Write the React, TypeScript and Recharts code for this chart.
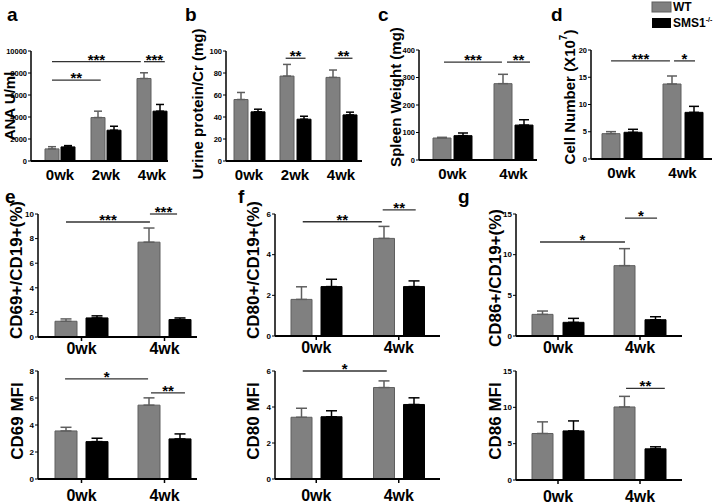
import React from 'react'
import { BarChart, Bar, XAxis, YAxis, ErrorBar, ReferenceLine } from 'recharts'

const WEEKS3 = ['0wk', '2wk', '4wk']
const WEEKS2 = ['0wk', '4wk']

// a - ANA U/ml
const anaWT = [1100, 3950, 7500]
const anaWTErr = [200, 580, 520]
const anaKO = [1280, 2800, 4530]
const anaKOErr = [120, 360, 610]
const anaTicks = [0, 2000, 4000, 6000, 8000, 10000]

// b - urine protein/Cr
const urineWT = [55.9, 77.2, 76]
const urineWTErr = [6.4, 10.6, 6.7]
const urineKO = [44.7, 38, 41.9]
const urineKOErr = [2.4, 2.7, 2.5]
const urineTicks = [0, 20, 40, 60, 80, 100]

// c - spleen weight
const spleenWT = [80, 277.6]
const spleenWTErr = [2.5, 34]
const spleenKO = [88.5, 127]
const spleenKOErr = [9.7, 19.4]
const spleenTicks = [0, 100, 200, 300, 400]

// d - cell number
const cellWT = [4.65, 13.76]
const cellWTErr = [0.37, 1.47]
const cellKO = [4.9, 8.56]
const cellKOErr = [0.55, 1.1]
const cellTicks = [0, 5, 10, 15, 20]

// e/f/g - percent of CD19+
const cd69WT = [1.28, 7.71]
const cd69WTErr = [0.19, 1.15]
const cd69KO = [1.55, 1.42]
const cd69KOErr = [0.17, 0.13]
const cd69Ticks = [0, 2, 4, 6, 8, 10]

const cd80WT = [1.8, 4.8]
const cd80WTErr = [0.62, 0.59]
const cd80KO = [2.43, 2.43]
const cd80KOErr = [0.36, 0.28]
const cd80Ticks = [0, 2, 4, 6]

const cd86WT = [2.66, 8.65]
const cd86WTErr = [0.41, 2.09]
const cd86KO = [1.68, 2.0]
const cd86KOErr = [0.49, 0.37]
const cd86Ticks = [0, 5, 10, 15]

// e/f/g - MFI
const mfi69WT = [3.56, 5.47]
const mfi69WTErr = [0.27, 0.54]
const mfi69KO = [2.77, 2.97]
const mfi69KOErr = [0.25, 0.37]
const mfi69Ticks = [0, 2, 4, 6, 8]

const mfi80WT = [3.43, 5.08]
const mfi80WTErr = [0.5, 0.37]
const mfi80KO = [3.46, 4.14]
const mfi80KOErr = [0.33, 0.37]
const mfi80Ticks = [0, 2, 4, 6]

const mfi86WT = [6.4, 10.05]
const mfi86WTErr = [1.6, 1.46]
const mfi86KO = [6.76, 4.29]
const mfi86KOErr = [1.37, 0.28]
const mfi86Ticks = [0, 5, 10, 15]

// significance brackets: [from week, side, to week, side, y value, stars]
// side: -1 = WT bar centre, +1 = KO bar centre
type Sig = [string, number, string, number, number, string]
const anaSig: Sig[] = [['0wk', -1, '4wk', -1.4, 9030, '***'], ['0wk', -1, '2wk', -0.66, 7360, '**'], ['4wk', -1, '4wk', 1.6, 9030, '***']]
const urineSig: Sig[] = [['2wk', -1.1, '2wk', 1.24, 93.4, '**'], ['4wk', -0.76, '4wk', 1.35, 93.4, '**']]
const spleenSig: Sig[] = [['0wk', -0.81, '4wk', -1.1, 356, '***'], ['4wk', -0.62, '4wk', 1.57, 356, '**']]
const cellSig: Sig[] = [['0wk', -0.95, '4wk', -1.14, 18, '***'], ['4wk', -0.77, '4wk', 1.14, 18, '*']]
const cd69Sig: Sig[] = [['0wk', -1, '4wk', -0.94, 9.35, '***'], ['4wk', -0.94, '4wk', 0.81, 10, '***']]
const cd80Sig: Sig[] = [['0wk', -0.9, '4wk', -1.13, 5.62, '**'], ['4wk', -1.07, '4wk', 1.13, 6.2, '**']]
const cd86Sig: Sig[] = [['0wk', -1.16, '4wk', -0.97, 11.56, '*'], ['4wk', -0.97, '4wk', 1.1, 14.5, '*']]
const mfi69Sig: Sig[] = [['0wk', -1.06, '4wk', -1.06, 7.41, '*'], ['4wk', -0.87, '4wk', 1.32, 6.38, '**']]
const mfi80Sig: Sig[] = [['0wk', -0.9, '4wk', -0.8, 6.0, '*']]
const mfi86Sig: Sig[] = [['4wk', -0.9, '4wk', 1.6, 12.6, '**']]

const WT_FILL = '#808080'
const WT_EDGE = '#5e5e5e'

interface PanelProps {
  x0: number
  x1: number
  top: number
  bottom: number
  cats: string[]
  wt: number[]
  wtErr: number[]
  ko: number[]
  koErr: number[]
  ticks: number[]
  sigs: Sig[]
  barSize: number
  barGap: number
  padL: number
  padR: number
  cap: number
  xTicks: boolean
  tickGap: number
  fs: number
  yfs: number
}

// bracket + stars, drawn from the reference line's own end points
const sigShape = (label: string, d1: number, d2: number) => (props: any) => {
  const a = props.x1 + d1
  const b = props.x2 + d2
  const y = props.y1
  return (
    <g>
      <line x1={a} x2={b} y1={y} y2={y} stroke="#333" strokeWidth={1.3} />
      <text x={(a + b) / 2} y={y + 3} textAnchor="middle" fontSize={15} fontWeight="bold" fill="#000">
        {label}
      </text>
    </g>
  )
}

// y tick label, drawn at the position the axis hands over
const yTick = (size: number) => (props: any) => (
  <text
    x={props.x}
    y={props.y}
    dy={size * 0.35}
    textAnchor="end"
    fontSize={size}
    fontWeight="bold"
    fill="#000"
  >
    {props.payload.value}
  </text>
)

function Panel(p: PanelProps) {
  const YW = 34
  const MT = 26
  const MR = 14
  const XH = 34
  const step = (p.barSize + p.barGap) / 2
  const data = p.cats.map((c, i) => ({
    cat: c,
    wt: p.wt[i],
    wtE: [0, p.wtErr[i]],
    ko: p.ko[i],
    koE: [0, p.koErr[i]],
  }))
  const yMax = p.ticks[p.ticks.length - 1]
  return (
    <div style={{ position: 'absolute', left: p.x0 - YW, top: p.top - MT }}>
      <BarChart
        width={YW + (p.x1 - p.x0) + MR}
        height={MT + (p.bottom - p.top) + XH}
        data={data}
        margin={{ top: MT, right: MR, left: 0, bottom: 0 }}
        barSize={p.barSize}
        barGap={p.barGap}
      >
        <XAxis
          dataKey="cat"
          height={XH}
          interval={0}
          padding={{ left: p.padL, right: p.padR }}
          axisLine={{ stroke: '#000', strokeWidth: 2 }}
          tickLine={p.xTicks ? { stroke: '#000', strokeWidth: 1.5 } : false}
          tickSize={4}
          tickMargin={p.tickGap}
          tick={{ fill: '#000', fontSize: p.fs, fontWeight: 'bold' }}
        />
        <YAxis
          width={YW}
          domain={[0, yMax]}
          ticks={p.ticks}
          interval={0}
          axisLine={{ stroke: '#000', strokeWidth: 1.5 }}
          tickLine={{ stroke: '#000', strokeWidth: 1 }}
          tickSize={3}
          tickMargin={1}
          tick={yTick(p.yfs)}
        />
        <Bar dataKey="wt" fill={WT_FILL} stroke={WT_EDGE} strokeWidth={1} isAnimationActive={false}>
          <ErrorBar dataKey="wtE" width={p.cap} stroke={WT_EDGE} strokeWidth={1.5} direction="y" />
        </Bar>
        <Bar dataKey="ko" fill="#000" stroke="#000" strokeWidth={1} isAnimationActive={false}>
          <ErrorBar dataKey="koE" width={p.cap} stroke="#000" strokeWidth={1.5} direction="y" />
        </Bar>
        {p.sigs.map((s, i) => (
          <ReferenceLine
            key={i}
            segment={[{ x: s[0], y: s[4] }, { x: s[2], y: s[4] }]}
            ifOverflow="visible"
            shape={sigShape(s[5], s[1] * step, s[3] * step)}
          />
        ))}
      </BarChart>
    </div>
  )
}

function Title({ x, y, size, children }: { x: number; y: number; size: number; children: React.ReactNode }) {
  return (
    <text
      x={x}
      y={y}
      transform={`rotate(-90 ${x} ${y})`}
      textAnchor="middle"
      dominantBaseline="central"
      fontSize={size}
      fontWeight="bold"
      fill="#000"
    >
      {children}
    </text>
  )
}

const top = { top: 51, bottom: 161, xTicks: false, tickGap: 4, fs: 15, yfs: 7.5 }
const mid = { top: 214, bottom: 336, xTicks: true, tickGap: 2, fs: 16, yfs: 8 }
const low = { top: 371, bottom: 479, xTicks: true, tickGap: 7, fs: 16, yfs: 8 }
const colE = { x0: 38, x1: 197, padL: 2, padR: -9, barSize: 22, barGap: 9, cap: 5.5 }
const colF = { x0: 275, x1: 440, padL: 0, padR: 0, barSize: 21, barGap: 9, cap: 5.5 }
const colG = { x0: 516, x1: 682, padL: 1, padR: 1, barSize: 21, barGap: 10, cap: 5.5 }

export default function App() {
  return (
    <div
      style={{
        position: 'absolute',
        left: 0,
        top: 0,
        width: 714,
        height: 504,
        overflow: 'hidden',
        background: '#fff',
        fontFamily: '"Liberation Sans", Arial, sans-serif',
      }}
    >
      <svg width={714} height={504} style={{ position: 'absolute', left: 0, top: 0 }}>
        <g fontSize={19} fontWeight="bold" fill="#000">
          <text x={7} y={21}>a</text>
          <text x={185} y={21}>b</text>
          <text x={378} y={21}>c</text>
          <text x={551} y={21}>d</text>
          <text x={5} y={203}>e</text>
          <text x={238} y={203}>f</text>
          <text x={458} y={203}>g</text>
        </g>
        <rect x={652} y={2} width={19} height={10} fill={WT_FILL} stroke={WT_EDGE} />
        <rect x={652} y={18} width={19} height={10} fill="#000" />
        <text x={673} y={11} fontSize={12} fontWeight="bold">WT</text>
        <text x={673} y={27} fontSize={12} fontWeight="bold">
          SMS1<tspan fontSize={7} dy={-5}>-/-</tspan>
        </text>
        <Title x={9} y={106} size={15}>ANA U/ml</Title>
        <Title x={197} y={104} size={15}>Urine protein/Cr (mg)</Title>
        <Title x={395} y={97} size={15}>Spleen Weight (mg)</Title>
        <Title x={569} y={97} size={15}>
          Cell Number (X10<tspan fontSize={10} dy={-6}>7</tspan>
          <tspan dy={6}>)</tspan>
        </Title>
        <Title x={16} y={270} size={17}>CD69+/CD19+(%)</Title>
        <Title x={253} y={270} size={17}>CD80+/CD19+(%)</Title>
        <Title x={495} y={278} size={17}>CD86+/CD19+(%)</Title>
        <Title x={17} y={421} size={17}>CD69 MFI</Title>
        <Title x={253} y={421} size={17}>CD80 MFI</Title>
        <Title x={495} y={421} size={17}>CD86 MFI</Title>
      </svg>

      <Panel {...top} x0={31} x1={168} padL={6} padR={-7} barSize={14} barGap={2} cap={4}
        cats={WEEKS3} wt={anaWT} wtErr={anaWTErr} ko={anaKO} koErr={anaKOErr} ticks={anaTicks} sigs={anaSig} />
      <Panel {...top} x0={226} x1={362} padL={0} padR={-2} barSize={14} barGap={3} cap={4}
        cats={WEEKS3} wt={urineWT} wtErr={urineWTErr} ko={urineKO} koErr={urineKOErr} ticks={urineTicks} sigs={urineSig} />
      <Panel {...top} top={50} bottom={160} x0={419} x1={537} padL={3} padR={-7} barSize={18} barGap={3} cap={5}
        cats={WEEKS2} wt={spleenWT} wtErr={spleenWTErr} ko={spleenKO} koErr={spleenKOErr} ticks={spleenTicks} sigs={spleenSig} />
      <Panel {...top} top={50} bottom={159} x0={591} x1={712} padL={0} padR={-1} barSize={18} barGap={4} cap={5}
        cats={WEEKS2} wt={cellWT} wtErr={cellWTErr} ko={cellKO} koErr={cellKOErr} ticks={cellTicks} sigs={cellSig} />

      <Panel {...mid} {...colE} bottom={337}
        cats={WEEKS2} wt={cd69WT} wtErr={cd69WTErr} ko={cd69KO} koErr={cd69KOErr} ticks={cd69Ticks} sigs={cd69Sig} />
      <Panel {...mid} {...colF}
        cats={WEEKS2} wt={cd80WT} wtErr={cd80WTErr} ko={cd80KO} koErr={cd80KOErr} ticks={cd80Ticks} sigs={cd80Sig} />
      <Panel {...mid} {...colG}
        cats={WEEKS2} wt={cd86WT} wtErr={cd86WTErr} ko={cd86KO} koErr={cd86KOErr} ticks={cd86Ticks} sigs={cd86Sig} />

      <Panel {...low} {...colE}
        cats={WEEKS2} wt={mfi69WT} wtErr={mfi69WTErr} ko={mfi69KO} koErr={mfi69KOErr} ticks={mfi69Ticks} sigs={mfi69Sig} />
      <Panel {...low} {...colF}
        cats={WEEKS2} wt={mfi80WT} wtErr={mfi80WTErr} ko={mfi80KO} koErr={mfi80KOErr} ticks={mfi80Ticks} sigs={mfi80Sig} />
      <Panel {...low} {...colG} bottom={480}
        cats={WEEKS2} wt={mfi86WT} wtErr={mfi86WTErr} ko={mfi86KO} koErr={mfi86KOErr} ticks={mfi86Ticks} sigs={mfi86Sig} />
    </div>
  )
}
